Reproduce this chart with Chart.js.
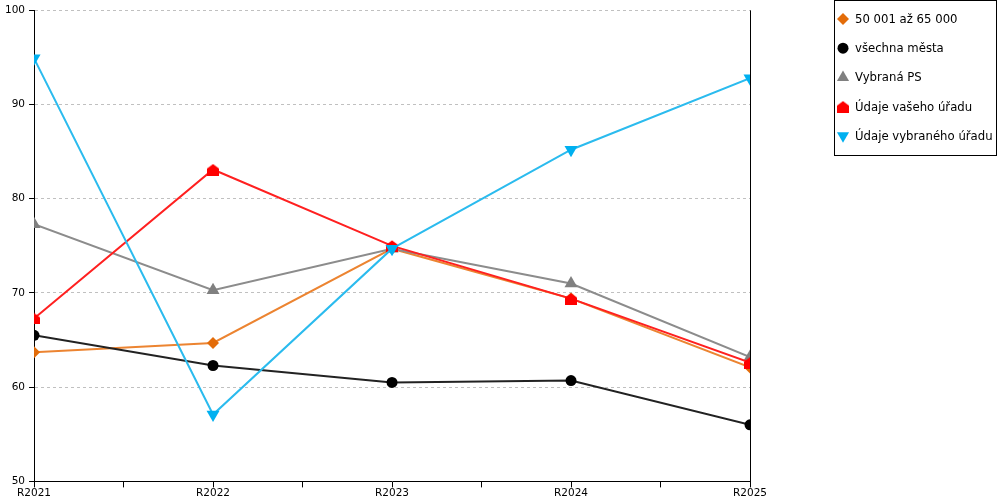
<!DOCTYPE html>
<html>
<head>
<meta charset="utf-8">
<script src="https://cdn.jsdelivr.net/npm/chart.js@4/dist/chart.umd.min.js"></script>
<style>
  html, body { margin: 0; padding: 0; background: #fff; }
  #wrap { width: 1000px; height: 500px; position: relative; }
</style>
</head>
<body>
<div id="wrap"><canvas id="chart"></canvas></div>
<script>
// kategorie a hodnoty
const categories = ['R2021', 'R2022', 'R2023', 'R2024', 'R2025'];
const seriesNames = ['50 001 až 65 000', 'všechna města', 'Vybraná PS', 'Údaje vašeho úřadu', 'Údaje vybraného úřadu'];
const orangeValues = [63.7, 64.7, 74.7, 69.4, 62.1];
const blackValues = [65.5, 62.3, 60.5, 60.7, 56.0];
const grayValues = [77.3, 70.3, 74.7, 71.0, 63.2];
const redValues = [67.3, 83.1, 75.0, 69.4, 62.6];
const blueValues = [94.9, 57.1, 74.7, 85.2, 92.8];
const yTicks = [50, 60, 70, 80, 90, 100];

const FONT = "'DejaVu Sans', Verdana, sans-serif";

// domeček pro "Údaje vašeho úřadu"
function makeHouse(color) {
    const c = document.createElement('canvas');
    c.width = 12; c.height = 12;
    const g = c.getContext('2d');
    g.fillStyle = color;
    g.beginPath();
    g.moveTo(0, 5);
    g.lineTo(6, 0.5);
    g.lineTo(12, 5);
    g.lineTo(12, 12);
    g.lineTo(0, 12);
    g.closePath();
    g.fill();
    return c;
}
const house = makeHouse('#ff0000');

function toPoints(values) {
    return values.map((v, i) => ({ x: i, y: v }));
}

const datasets = [
    { label: seriesNames[0], data: toPoints(orangeValues), borderColor: '#ec8431', backgroundColor: '#e36c09',
      pointStyle: 'rectRot', pointRadius: 6, rotation: 0, order: 5 },
    { label: seriesNames[1], data: toPoints(blackValues), borderColor: '#222222', backgroundColor: '#000000',
      pointStyle: 'circle', pointRadius: 5.5, rotation: 0, order: 4 },
    { label: seriesNames[2], data: toPoints(grayValues), borderColor: '#8c8c8c', backgroundColor: '#808080',
      pointStyle: 'triangle', pointRadius: 7.5, rotation: 0, order: 3 },
    { label: seriesNames[3], data: toPoints(redValues), borderColor: '#ff2020', backgroundColor: '#ff0000',
      pointStyle: house, pointRadius: 6, rotation: 0, order: 2 },
    { label: seriesNames[4], data: toPoints(blueValues), borderColor: '#2bbbee', backgroundColor: '#00b0f0',
      pointStyle: 'triangle', pointRadius: 7.5, rotation: 180, order: 1 }
];
datasets.forEach(d => {
    d.borderWidth = 2;
    d.pointBorderWidth = 0;
    d.pointBorderColor = d.backgroundColor;
    d.pointBackgroundColor = d.backgroundColor;
    d.pointHoverRadius = d.pointRadius;
    d.pointRotation = d.rotation;
    d.tension = 0;
});

// legenda v rámečku vpravo
const boxLegend = {
    id: 'boxLegend',
    afterDraw(chart) {
        const ctx = chart.ctx;
        const left = 834.5, top = 0.5, w = 162, h = 155;
        ctx.save();
        ctx.strokeStyle = '#000';
        ctx.lineWidth = 1;
        ctx.strokeRect(left, top, w, h);
        ctx.font = '11.7px ' + FONT;
        ctx.textBaseline = 'middle';
        ctx.fillStyle = '#000';
        datasets.forEach((d, i) => {
            const y = 19 + i * 29.2;
            const style = { pointStyle: d.pointStyle, radius: d.pointStyle === 'triangle' ? 7 : d.pointRadius, rotation: d.rotation, borderWidth: 0 };
            ctx.fillStyle = d.backgroundColor;
            ctx.strokeStyle = d.backgroundColor;
            Chart.helpers.drawPoint(ctx, style, 843, y);
            ctx.fillStyle = '#000';
            ctx.fillText(d.label, 855, y + 1);
        });
        ctx.restore();
    }
};

document.addEventListener('DOMContentLoaded', function() {
    const ctx = document.getElementById('chart');
    new Chart(ctx, {
        type: 'line',
        data: { datasets: datasets },
        plugins: [boxLegend],
        options: {
            responsive: true,
            maintainAspectRatio: false,
            animation: false,
            layout: { padding: { left: 1, right: 250, top: 5, bottom: 0 } },
            plugins: {
                legend: { display: false },
                tooltip: { enabled: false }
            },
            scales: {
                x: {
                    type: 'linear',
                    min: 0,
                    max: categories.length - 1,
                    afterBuildTicks(axis) {
                        const t = [];
                        for (let v = 0; v <= categories.length - 1; v += 0.5) t.push({ value: v });
                        axis.ticks = t;
                    },
                    ticks: {
                        autoSkip: false,
                        maxRotation: 0,
                        padding: 0,
                        color: '#000',
                        font: { family: FONT, size: 10.5 },
                        callback: v => Number.isInteger(v) ? categories[v] : ''
                    },
                    grid: {
                        drawOnChartArea: true,
                        color: c => (c.tick && c.tick.value === categories.length - 1) ? '#000' : 'rgba(0,0,0,0)',
                        tickColor: '#000',
                        tickLength: 6,
                        lineWidth: 1
                    },
                    border: { color: '#000', width: 1 }
                },
                y: {
                    min: yTicks[0],
                    max: yTicks[yTicks.length - 1],
                    afterBuildTicks(axis) {
                        axis.ticks = yTicks.map(v => ({ value: v }));
                    },
                    ticks: {
                        padding: 4,
                        color: '#000',
                        font: { family: FONT, size: 10.5 }
                    },
                    grid: {
                        color: '#c0c0c0',
                        tickColor: '#000',
                        tickLength: 5,
                        lineWidth: 1
                    },
                    border: { color: '#000', width: 1, dash: [3, 3] }
                }
            }
        }
    });
});
</script>
</body>
</html>
